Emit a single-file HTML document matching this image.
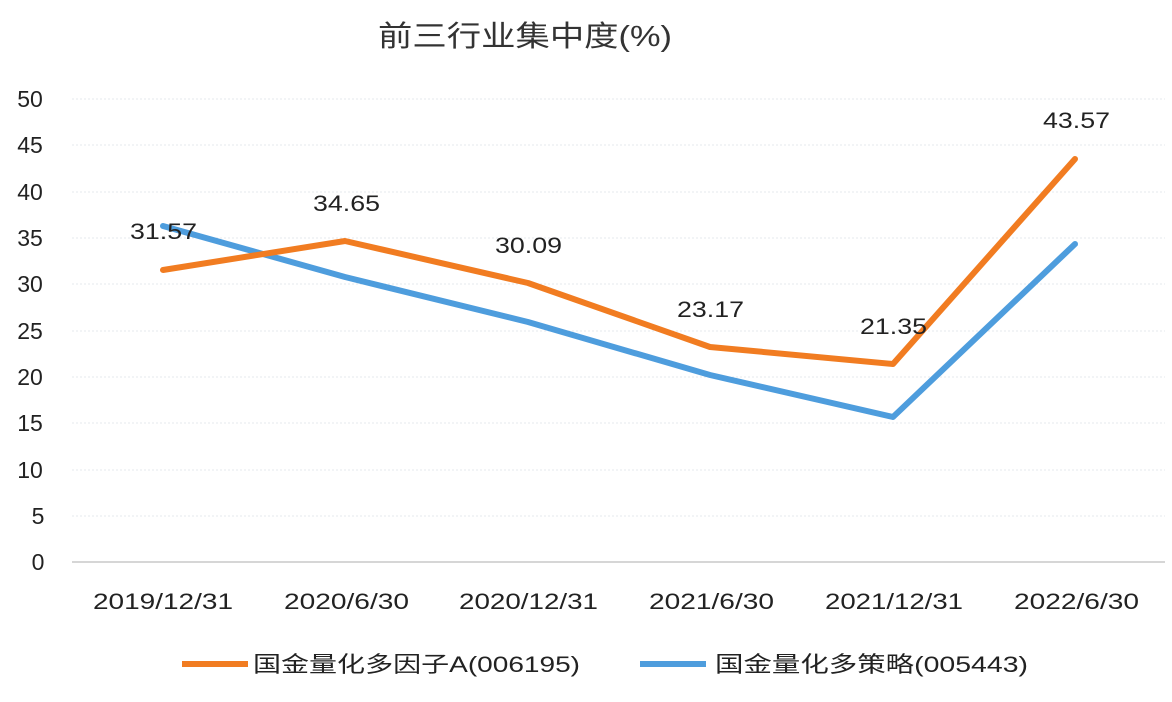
<!DOCTYPE html>
<html><head><meta charset="utf-8"><style>
body{margin:0;background:#fff;}
svg{display:block;font-family:"Liberation Sans","Noto Sans CJK SC",sans-serif;}
</style></head><body>
<svg width="1172" height="702" viewBox="0 0 1172 702">
<rect width="1172" height="702" fill="#fff"/>
<text x="378" y="46" font-size="29" fill="#333" textLength="294" lengthAdjust="spacingAndGlyphs">前三行业集中度(%)</text>
<g stroke="#e4e8ee" stroke-width="1" stroke-dasharray="2,2">
<line x1="72" x2="1165" y1="99" y2="99"/><line x1="72" x2="1165" y1="145" y2="145"/>
<line x1="72" x2="1165" y1="192" y2="192"/><line x1="72" x2="1165" y1="238" y2="238"/>
<line x1="72" x2="1165" y1="284" y2="284"/><line x1="72" x2="1165" y1="331" y2="331"/>
<line x1="72" x2="1165" y1="377" y2="377"/><line x1="72" x2="1165" y1="423" y2="423"/>
<line x1="72" x2="1165" y1="470" y2="470"/><line x1="72" x2="1165" y1="516" y2="516"/>
</g>
<line x1="72" x2="1165" y1="562" y2="562" stroke="#c8c8c8" stroke-width="1.5"/>
<g font-size="23" fill="#222" text-anchor="middle">
<text x="30" y="107">50</text><text x="30" y="153">45</text><text x="30" y="200">40</text>
<text x="30" y="246">35</text><text x="30" y="292">30</text><text x="30" y="339">25</text>
<text x="30" y="385">20</text><text x="30" y="431">15</text><text x="30" y="478">10</text>
<text x="38" y="524">5</text><text x="38" y="570">0</text>
</g>
<g font-size="22" fill="#222">
<text x="93" y="609" textLength="140" lengthAdjust="spacingAndGlyphs">2019/12/31</text>
<text x="284" y="609" textLength="125" lengthAdjust="spacingAndGlyphs">2020/6/30</text>
<text x="459" y="609" textLength="139" lengthAdjust="spacingAndGlyphs">2020/12/31</text>
<text x="649" y="609" textLength="125" lengthAdjust="spacingAndGlyphs">2021/6/30</text>
<text x="825" y="609" textLength="138" lengthAdjust="spacingAndGlyphs">2021/12/31</text>
<text x="1014" y="609" textLength="125" lengthAdjust="spacingAndGlyphs">2022/6/30</text>
</g>
<polyline points="163,226 345,277 528,322 710,375 893,417 1075,244" fill="none" stroke="#4e9ddd" stroke-width="6" stroke-linejoin="round" stroke-linecap="round"/>
<polyline points="163,270 345,241 528,283 710,347 893,364 1075,159" fill="none" stroke="#f17c21" stroke-width="6" stroke-linejoin="round" stroke-linecap="round"/>
<g font-size="22" fill="#222">
<text x="130" y="239" textLength="67" lengthAdjust="spacingAndGlyphs">31.57</text>
<text x="313" y="211" textLength="67" lengthAdjust="spacingAndGlyphs">34.65</text>
<text x="495" y="253" textLength="67" lengthAdjust="spacingAndGlyphs">30.09</text>
<text x="677" y="317" textLength="67" lengthAdjust="spacingAndGlyphs">23.17</text>
<text x="860" y="334" textLength="67" lengthAdjust="spacingAndGlyphs">21.35</text>
<text x="1043" y="128" textLength="67" lengthAdjust="spacingAndGlyphs">43.57</text>
</g>
<line x1="182" x2="248" y1="664" y2="664" stroke="#f17c21" stroke-width="6"/>
<text x="253" y="672" font-size="22" fill="#222" textLength="327" lengthAdjust="spacingAndGlyphs">国金量化多因子A(006195)</text>
<line x1="640" x2="706" y1="664" y2="664" stroke="#4e9ddd" stroke-width="6"/>
<text x="715" y="672" font-size="22" fill="#222" textLength="313" lengthAdjust="spacingAndGlyphs">国金量化多策略(005443)</text>
</svg>
</body></html>
